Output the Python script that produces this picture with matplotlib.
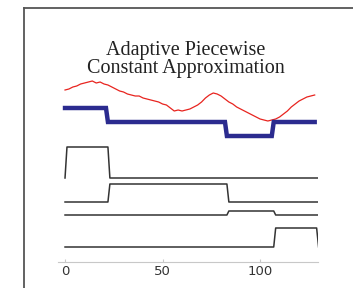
import numpy as np
import matplotlib
matplotlib.use('Agg')
import matplotlib.pyplot as plt
from matplotlib.lines import Line2D

# red series, read every 2 samples (t = 0, 2, ..., 128)
red_t = list(range(0, 129, 2))
red_y = [172, 173, 175, 176, 178, 179, 180, 181, 179, 180, 178, 177, 175, 173, 171, 170,
         168, 167, 166, 166, 164, 163, 162, 161, 160, 158, 157, 154, 151, 152, 151, 152,
         153, 155, 157, 160, 164, 167, 169, 168, 166, 163, 160, 158, 155, 153, 151, 149,
         147, 145, 143, 142, 141, 142, 143, 145, 148, 151, 155, 158, 161, 163, 165, 166,
         167]

# adaptive piecewise constant approximation: segment lengths and levels
seg_len = [22, 61, 24, 22]
seg_level = [154, 140, 126, 140]

# indicator lines: baseline and height of each
ind_base = [84, 60, 47, 15]
ind_amp = [31, 18, 4, 19]

xticks = [0, 50, 100]

fig = plt.figure(figsize=(3.53, 2.88), dpi=100)
ax = fig.add_axes([58 / 353, 26 / 288, 260 / 353, 254 / 288])
ax.set_xlim(-3.6, 129.7)
ax.set_ylim(0, 254)

ax.plot(red_t, red_y, color='#e8241f', lw=0.9)

apca = np.repeat(seg_level, seg_len)
ax.plot(np.arange(len(apca)), apca, color='#2b2b8f', lw=3.2, solid_joinstyle='miter')

n = sum(seg_len)
starts = np.cumsum([0] + seg_len[:-1])
for k in range(len(seg_len)):
    ind = np.zeros(n + 2)
    ind[1 + starts[k]:1 + starts[k] + seg_len[k]] = 1
    ax.plot(np.arange(n + 2), ind_base[k] + ind_amp[k] * ind, color='#333333', lw=1.1)

for s in ['top', 'right', 'left']:
    ax.spines[s].set_visible(False)
ax.spines['bottom'].set_color('#c8c8c8')
ax.spines['bottom'].set_linewidth(0.8)
ax.set_yticks([])
ax.set_xticks(xticks)
ax.tick_params(axis='x', direction='in', length=2, color='#c8c8c8', pad=2,
               labelsize=9.5, labelcolor='#333333')

fig.text(186 / 353, 1 - 50 / 288, 'Adaptive Piecewise', ha='center', va='center',
         family='Liberation Serif', fontsize=14.5, color='#222222')
fig.text(186 / 353, 1 - 69 / 288, 'Constant Approximation', ha='center', va='center',
         family='Liberation Serif', fontsize=14.5, color='#222222')

# outer frame (left and top edges)
fig.add_artist(Line2D([24 / 353, 24 / 353], [0, 1 - 8 / 288], color='#555555', lw=1.3))
fig.add_artist(Line2D([24 / 353, 1], [1 - 8 / 288, 1 - 8 / 288], color='#555555', lw=1.3))

fig.savefig('out.png', dpi=100)
